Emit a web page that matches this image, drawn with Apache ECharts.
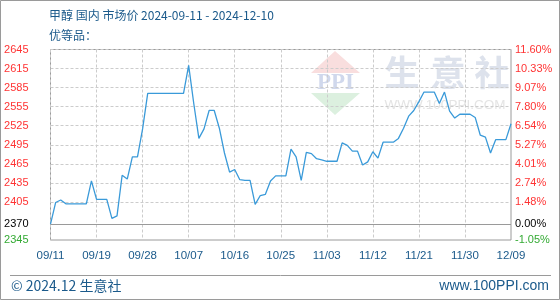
<!DOCTYPE html>
<html><head><meta charset="utf-8">
<script src="https://cdn.jsdelivr.net/npm/echarts@6/dist/echarts.min.js"></script>
<style>html,body{margin:0;padding:0;background:#fff}#c{width:560px;height:300px}</style>
</head><body><div id="c"></div>
<script>
const categories = [
 '09/11','09/12','09/13','09/14','09/15','09/16','09/17','09/18','09/19','09/20',
 '09/21','09/22','09/23','09/24','09/25','09/26','09/27','09/28','09/29','09/30',
 '10/01','10/02','10/03','10/04','10/05','10/06','10/07','10/08','10/09','10/10',
 '10/11','10/12','10/13','10/14','10/15','10/16','10/17','10/18','10/19','10/20',
 '10/21','10/22','10/23','10/24','10/25','10/26','10/27','10/28','10/29','10/30','10/31',
 '11/01','11/02','11/03','11/04','11/05','11/06','11/07','11/08','11/09','11/10',
 '11/11','11/12','11/13','11/14','11/15','11/16','11/17','11/18','11/19','11/20',
 '11/21','11/22','11/23','11/24','11/25','11/26','11/27','11/28','11/29','11/30',
 '12/01','12/02','12/03','12/04','12/05','12/06','12/07','12/08','12/09','12/10'
];
const prices = [
 2370,2404,2408,2402,2402,2402,2402,2402,2438,2409,
 2409,2409,2379,2383,2447,2441,2476,2476,2520,2576,
 2576,2576,2576,2576,2576,2576,2576,2620,2560,2505,
 2520,2549,2549,2521,2482,2452,2456,2440,2439,2439,
 2401,2415,2417,2438,2446,2446,2446,2488,2476,2439,
 2483,2481,2473,2471,2469,2469,2469,2498,2494,2485,
 2485,2463,2468,2484,2474,2499,2499,2499,2505,2521,
 2540,2549,2563,2578,2578,2578,2560,2578,2548,2537,
 2543,2543,2543,2538,2510,2507,2482,2503,2503,2503,
 2528
];
const xTickLabels = ['09/11','09/19','09/28','10/07','10/16','10/25','11/03','11/12','11/21','11/30','12/09'];
const yTickValues = [2345,2370,2405,2435,2465,2495,2525,2555,2585,2615,2645];
const leftTickLabels = ['2345','2370','2405','2435','2465','2495','2525','2555','2585','2615','2645'];
const rightTickLabels = ['-1.05%','0.00%','1.48%','2.74%','4.01%','5.27%','6.54%','7.80%','9.07%','10.33%','11.60%'];
const baseValue = 2370;
const titleText = '甲醇 国内 市场价 2024-09-11 - 2024-12-10';
const subTitleText = '优等品：';
const footerLeft = '© 2024.12 生意社';
const footerRight = 'www.100PPI.com';

const chart = echarts.init(document.getElementById('c'), null, {renderer:'canvas'});
const dark = '#1b5a8b';
const axisFont = '"Liberation Sans", Arial, sans-serif';
function tickColor(v){ v = Number(v); return v > baseValue ? '#ff3333' : (v < baseValue ? '#33aa33' : '#000000'); }
function tickIdx(v){ return yTickValues.indexOf(Number(v)); }

chart.setOption({
  animation:false,
  title:[
    {text:titleText, left:49, top:8, padding:0, textStyle:{fontSize:12, fontWeight:'normal', color:dark, fontFamily:'"Noto Sans CJK SC", sans-serif', lineHeight:14}},
    {text:subTitleText, left:49, top:28, padding:0, textStyle:{fontSize:12, fontWeight:'normal', color:dark, fontFamily:'"Noto Sans CJK SC", sans-serif', lineHeight:14}}
  ],
  grid:{left:50.5, right:49, top:49.5, bottom:60, show:true, borderColor:'#9a9a9a', borderWidth:1, backgroundColor:'transparent'},
  xAxis:{
    type:'category', data:categories, boundaryGap:false,
    axisLine:{show:false}, axisTick:{show:false, interval:8},
    splitLine:{show:true, interval:8, lineStyle:{color:'#cccccc', type:[3,2], width:1}},
    axisLabel:{interval:8, margin:10, color:dark, fontSize:11.5, fontFamily:axisFont,
      formatter:function(v,i){ return xTickLabels[Math.round(i/9)]; }}
  },
  yAxis:[
    {type:'value', min:2345, max:2645, position:'left',
     axisLine:{show:false}, axisTick:{show:false, customValues:yTickValues},
     splitLine:{show:true, lineStyle:{color:'#cccccc', type:[3,2], width:1}},
     axisLabel:{customValues:yTickValues, margin:22, fontSize:11, fontFamily:axisFont,
       color:tickColor, formatter:function(v){ return leftTickLabels[tickIdx(v)]; }}},
    {type:'value', min:2345, max:2645, position:'right',
     axisLine:{show:false}, axisTick:{show:false, customValues:yTickValues},
     splitLine:{show:false},
     axisLabel:{customValues:yTickValues, margin:4, fontSize:11, fontFamily:axisFont,
       color:tickColor, formatter:function(v){ return rightTickLabels[tickIdx(v)]; }}}
  ],
  graphic:[
    {type:'rect', z:-10, shape:{x:0.5,y:0.5,width:559,height:299}, style:{fill:'none', stroke:'#9a9a9a', lineWidth:1}},
    {type:'polygon', z:-5, shape:{points:[[311,73],[335,51],[360,73]]}, style:{fill:'#f9dede'}},
    {type:'polygon', z:-5, shape:{points:[[311,93],[360,93],[335,115]]}, style:{fill:'#dcf0df'}},
    {type:'text', z:-5, x:335.5, y:83, style:{text:'PPI', fill:'#d0d8ec', font:'bold 23px "Liberation Serif", serif', align:'center', verticalAlign:'middle'}},
    {type:'text', z:-5, x:402, y:73, style:{text:'生', fill:'#dde2ec', font:'bold 35px "Noto Sans CJK SC", sans-serif', align:'center', verticalAlign:'middle'}},
    {type:'text', z:-5, x:448, y:73, style:{text:'意', fill:'#dde2ec', font:'bold 35px "Noto Sans CJK SC", sans-serif', align:'center', verticalAlign:'middle'}},
    {type:'text', z:-5, x:492, y:73, style:{text:'社', fill:'#dde2ec', font:'bold 35px "Noto Sans CJK SC", sans-serif', align:'center', verticalAlign:'middle'}},
    {type:'text', z:-5, x:445, y:105, style:{text:'WWW.100PPI.COM', fill:'#e4e4e4', font:'13.5px "Liberation Sans", sans-serif', align:'center', verticalAlign:'middle'}},
    {type:'line', shape:{x1:10, y1:275.5, x2:551, y2:275.5}, style:{stroke:'#9a9a9a', lineWidth:1}},
    {type:'text', x:11, y:286, style:{text:footerLeft, fill:dark, font:'14px "Noto Sans CJK SC", sans-serif', align:'left', verticalAlign:'middle'}},
    {type:'text', x:549, y:286, style:{text:footerRight, fill:dark, font:'14px "Liberation Sans", sans-serif', align:'right', verticalAlign:'middle'}}
  ],
  series:[{
    type:'line', data:prices, yAxisIndex:0, symbol:'none', smooth:false,
    lineStyle:{color:'#3a9ad9', width:1.3},
    markLine:{silent:true, symbol:'none', label:{show:false},
      lineStyle:{color:'#9a9a9a', type:'solid', width:1}, data:[{yAxis:baseValue}]}
  }]
});
</script></body></html>
